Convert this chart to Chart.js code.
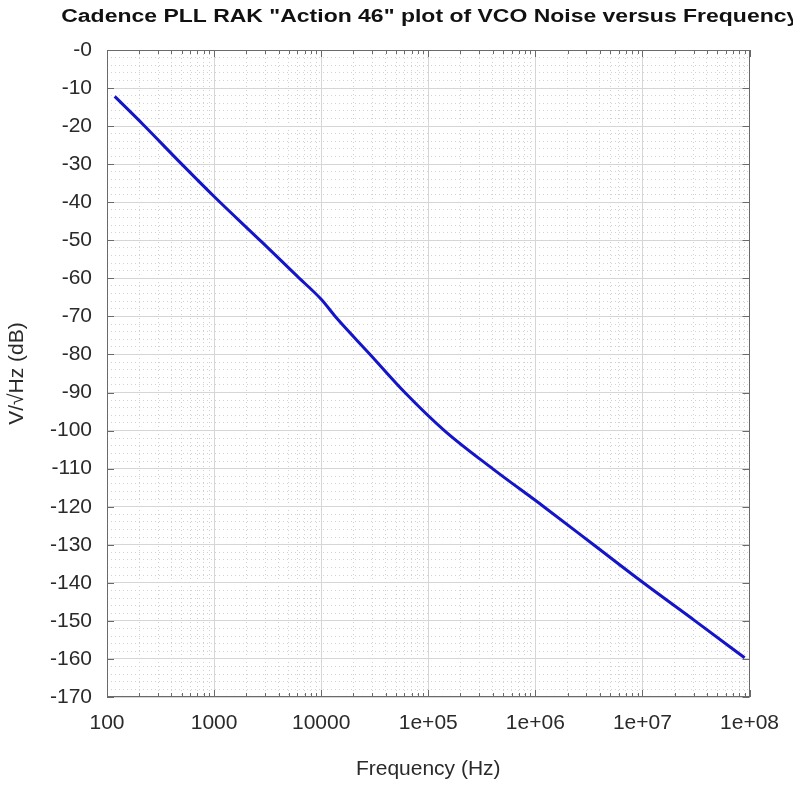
<!DOCTYPE html>
<html>
<head>
<meta charset="utf-8">
<script src="https://cdn.jsdelivr.net/npm/chart.js@4.4.1/dist/chart.umd.min.js"></script>
<style>
body { margin: 0; background: #fff; }
</style>
</head>
<body>
<canvas id="myChart" width="793" height="788"></canvas>
<script>
// values
let freqHz = [118, 216, 491, 1000, 2800, 6000, 10000, 14000, 28630, 60500, 141500, 398000, 1200000, 3500000, 10200000, 31000000, 90000000];
let noiseDb = [-12.2, -19.5, -29.8, -38.5, -50.5, -59.5, -65.5, -70.5, -80, -90, -100, -110, -120, -130, -140, -150, -159.7];

let xTicks = [100, 1000, 10000, 1e5, 1e6, 1e7, 1e8];
let xTickLabels = ['100', '1000', '10000', '1e+05', '1e+06', '1e+07', '1e+08'];
let yTicks = [0, -10, -20, -30, -40, -50, -60, -70, -80, -90, -100, -110, -120, -130, -140, -150, -160, -170];
let yTickLabels = ['-0', '-10', '-20', '-30', '-40', '-50', '-60', '-70', '-80', '-90', '-100', '-110', '-120', '-130', '-140', '-150', '-160', '-170'];

let titleText = 'Cadence PLL RAK "Action 46" plot of VCO Noise versus Frequency';
let xTitle = 'Frequency (Hz)';
let yTitle = 'V/\u221AHz (dB)';

// minor grid at 2..9 inside each decade
let xMinorTicks = [];
xTicks.slice(0, -1).forEach(d => {
    for (let k = 2; k <= 9; k++) xMinorTicks.push(k * d);
});

let ink = '#2a2a2a';
let fontName = "'Liberation Sans', Arial, sans-serif";

// box round the plot with inward ticks, like octave draws it
let octaveFrame = {
    id: 'octaveFrame',
    afterDatasetsDraw(chart) {
        let ctx = chart.ctx, a = chart.chartArea;
        let xs = chart.scales.x, ys = chart.scales.y;
        ctx.save();
        ctx.strokeStyle = '#6a6a6a';
        ctx.lineWidth = 1;
        ctx.beginPath();
        xTicks.forEach(v => {
            let px = Math.round(xs.getPixelForValue(v)) + 0.5;
            ctx.moveTo(px, a.bottom); ctx.lineTo(px, a.bottom - 7);
            ctx.moveTo(px, a.top); ctx.lineTo(px, a.top + 7);
        });
        xMinorTicks.forEach(v => {
            let px = Math.round(xs.getPixelForValue(v)) + 0.5;
            ctx.moveTo(px, a.bottom); ctx.lineTo(px, a.bottom - 4);
            ctx.moveTo(px, a.top); ctx.lineTo(px, a.top + 4);
        });
        yTicks.forEach(v => {
            let py = Math.round(ys.getPixelForValue(v)) + 0.5;
            ctx.moveTo(a.left, py); ctx.lineTo(a.left + 7, py);
            ctx.moveTo(a.right, py); ctx.lineTo(a.right - 7, py);
        });
        ctx.stroke();
        ctx.strokeRect(Math.round(a.left) + 0.5, Math.round(a.top) + 0.5, Math.round(a.width) - 1, Math.round(a.height) - 1);
        ctx.restore();
    }
};

// title is centred on the axes and runs off the right edge
let plotTitle = {
    id: 'plotTitle',
    afterDraw(chart) {
        let ctx = chart.ctx, a = chart.chartArea;
        ctx.save();
        ctx.font = 'bold 18px ' + fontName;
        let w = ctx.measureText(titleText).width;
        ctx.translate((a.left + a.right) / 2 + 2, 17);
        ctx.scale(738 / w, 1);
        ctx.textAlign = 'center';
        ctx.textBaseline = 'middle';
        ctx.fillStyle = '#111';
        ctx.fillText(titleText, 0, 0);
        ctx.restore();
    }
};

var ctx = document.getElementById('myChart').getContext('2d');
var chart = new Chart(ctx, {
    type: 'line',
    data: {
        datasets: [{
            label: 'VCO noise',
            data: freqHz.map((f, i) => ({ x: f, y: noiseDb[i] })),
            borderColor: '#1414c8',
            borderWidth: 3,
            pointRadius: 0,
            cubicInterpolationMode: 'monotone',
            xAxisID: 'x',
            yAxisID: 'y'
        }]
    },
    options: {
        responsive: false,
        animation: false,
        layout: { padding: { top: 50, right: 40, left: 0, bottom: 0 } },
        plugins: {
            legend: { display: false },
            tooltip: { enabled: false }
        },
        scales: {
            x: {
                type: 'logarithmic',
                position: 'bottom',
                min: 100,
                max: 1e8,
                afterBuildTicks: s => { s.ticks = xTicks.map(v => ({ value: v })); },
                afterFit: s => { s.height = 91; },
                grid: { color: '#d6d6d6', lineWidth: 1, drawTicks: false },
                border: { display: false },
                ticks: {
                    autoSkip: false,
                    maxRotation: 0,
                    padding: 14,
                    color: ink,
                    font: { family: fontName, size: 21 },
                    callback: (v, i) => xTickLabels[i]
                },
                title: {
                    display: true,
                    text: xTitle,
                    color: ink,
                    font: { family: fontName, size: 21 },
                    padding: { top: 0, bottom: 6 }
                }
            },
            xMinor: {
                type: 'logarithmic',
                position: 'top',
                min: 100,
                max: 1e8,
                afterBuildTicks: s => { s.ticks = xMinorTicks.map(v => ({ value: v })); },
                grid: { color: '#d2d2d2', lineWidth: 1, drawTicks: false },
                border: { display: false, dash: [1, 3] },
                ticks: { display: false }
            },
            y: {
                type: 'linear',
                position: 'left',
                min: -170,
                max: 0,
                afterBuildTicks: s => { s.ticks = yTicks.map(v => ({ value: v })); },
                afterFit: s => { s.width = 107; },
                grid: { color: '#d6d6d6', lineWidth: 1, drawTicks: false },
                border: { display: false },
                ticks: {
                    padding: 15,
                    color: ink,
                    font: { family: fontName, size: 21 },
                    callback: v => yTickLabels[yTicks.indexOf(v)]
                },
                title: {
                    display: true,
                    text: yTitle,
                    color: ink,
                    font: { family: fontName, size: 21 },
                    padding: { top: 5, bottom: 0 }
                }
            },
            yMinor: {
                type: 'linear',
                position: 'right',
                min: -170,
                max: 0,
                ticks: { display: false, stepSize: 2 },
                grid: {
                    color: c => (c.tick && c.tick.value % 10 === 0) ? 'rgba(0,0,0,0)' : '#d2d2d2',
                    lineWidth: 1,
                    drawTicks: false
                },
                border: { display: false, dash: [1, 3] }
            }
        }
    },
    plugins: [octaveFrame, plotTitle]
});
</script>
</body>
</html>
